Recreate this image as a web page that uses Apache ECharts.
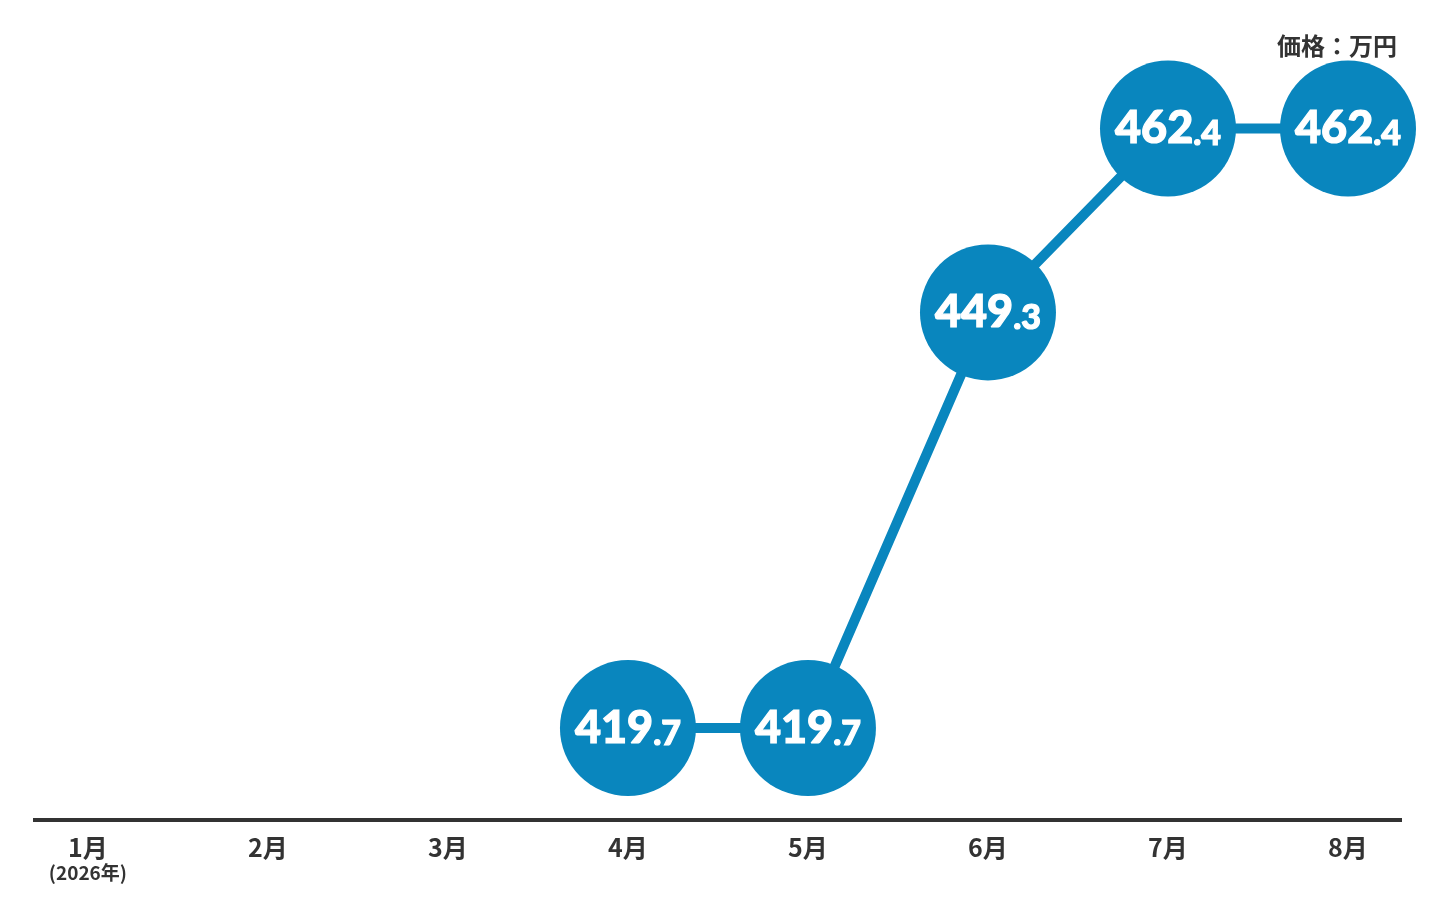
<!DOCTYPE html>
<html>
<head>
<meta charset="utf-8">
<script src="https://cdn.jsdelivr.net/npm/echarts@6/dist/echarts.min.js"></script>
<style>
  html, body { margin: 0; padding: 0; background: #fff; }
  #chart { width: 1436px; height: 914px; }
</style>
</head>
<body>
<div id="chart"></div>
<script>
// 月ごとの価格（万円）
const months = ['1月', '2月', '3月', '4月', '5月', '6月', '7月', '8月'];
const monthIndex = [3, 4, 5, 6, 7];
const prices = [419.7, 419.7, 449.3, 462.4, 462.4];
const yearNote = '(2026年)';
const unitText = '価格：万円';

const blue = '#0986be';
const dark = '#333333';

const chart = echarts.init(document.getElementById('chart'));

const option = {
  animation: false,
  grid: {
    left: 33,
    right: 34,
    top: 40,
    bottom: 94
  },
  title: {
    text: unitText,
    right: 34,
    top: 29,
    textStyle: {
      fontFamily: 'Noto Sans CJK JP',
      fontSize: 24,
      fontWeight: 'bold',
      color: dark
    }
  },
  xAxis: {
    type: 'value',
    min: -0.305,
    max: 7.3,
    position: 'bottom',
    splitLine: { show: false },
    axisTick: { show: false },
    axisLine: {
      onZero: false,
      lineStyle: { color: dark, width: 4, cap: 'butt' }
    },
    axisLabel: {
      customValues: [0, 1, 2, 3, 4, 5, 6, 7],
      margin: 12,
      formatter: function (v) {
        const i = Math.round(v);
        if (i === 0) return '{m|' + months[i] + '}\n{s|' + yearNote + '}';
        return '{m|' + months[i] + '}';
      },
      rich: {
        m: {
          fontFamily: 'Noto Sans CJK JP',
          fontSize: 25,
          fontWeight: 'bold',
          color: dark,
          lineHeight: 30
        },
        s: {
          fontFamily: 'Noto Sans CJK JP',
          fontSize: 19,
          fontWeight: 'bold',
          color: dark,
          lineHeight: 22
        }
      }
    }
  },
  yAxis: {
    type: 'value',
    show: false,
    min: 413.15,
    max: 468.7
  },
  series: [{
    type: 'line',
    data: monthIndex.map((m, i) => [m, prices[i]]),
    symbol: 'circle',
    symbolSize: 136,
    lineStyle: { color: blue, width: 10 },
    itemStyle: { color: blue },
    label: {
      show: true,
      position: 'inside',
      formatter: function (p) {
        const parts = p.value[1].toFixed(1).split('.');
        return '{a|' + parts[0] + '}{b|.' + parts[1] + '}';
      },
      rich: {
        a: {
          fontFamily: 'Lato',
          fontWeight: 900,
          fontSize: 45,
          color: '#fff',
          textBorderColor: '#fff',
          textBorderWidth: 1.2,
          verticalAlign: 'bottom',
          lineHeight: 46
        },
        b: {
          fontFamily: 'Lato',
          fontWeight: 900,
          fontSize: 34,
          color: '#fff',
          textBorderColor: '#fff',
          textBorderWidth: 1.2,
          verticalAlign: 'bottom',
          lineHeight: 46
        }
      }
    }
  }]
};

chart.setOption(option);
</script>
</body>
</html>
